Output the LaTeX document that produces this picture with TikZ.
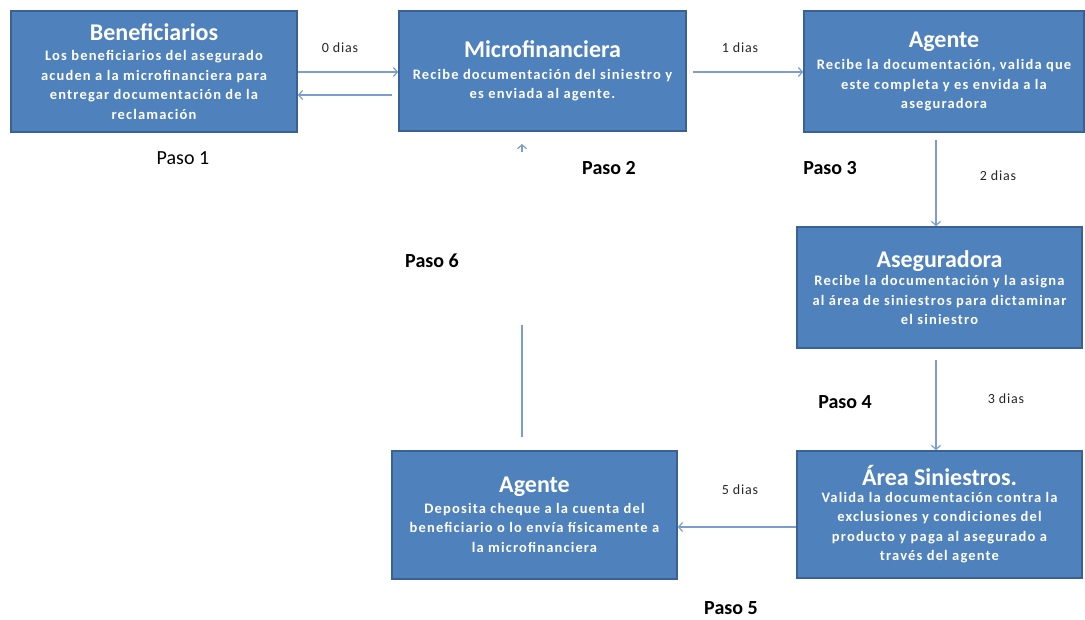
\documentclass[tikz,border=0pt]{standalone}
\usepackage{fontspec}
\setmainfont{Carlito}
\usetikzlibrary{arrows.meta}
\definecolor{boxfill}{HTML}{4F81BD}
\definecolor{boxborder}{HTML}{3A6193}
\definecolor{linec}{HTML}{7C9DD0}
\newfontfamily\bodyff[LetterSpace=8]{Carlito}
\newfontfamily\lblff[LetterSpace=6]{Carlito}
\newcommand{\ttl}[1]{{\rmfamily\fontsize{24}{27}\selectfont\bfseries #1}}
\begin{document}
\begin{tikzpicture}[x=1pt,y=-1pt,
  box/.style={draw=boxborder, line width=1.6pt, fill=boxfill, text=white, align=center,
    inner sep=2pt, font={\bodyff\bfseries\fontsize{14.5}{19.5}\selectfont}},
  conn/.style={draw=linec, line width=1.3pt, -{Straight Barb[length=4pt,width=9pt,line width=1.2pt]}},
  lbl/.style={font={\lblff\fontsize{14}{16}\selectfont}, text=black!85},
  paso/.style={font=\fontsize{20}{24}\selectfont\bfseries},
]
\useasboundingbox (0,0) rectangle (1085,620);
% boxes
\node[box, minimum width=286pt, minimum height=121pt] (benef) at (154,71.5)
  {\ttl{Beneficiarios}\\[1pt]Los beneficiarios del asegurado\\acuden a la microfinanciera para\\entregar documentación de la\\reclamación};
\node[box, minimum width=287pt, minimum height=120pt] (micro) at (542.5,71)
  {\ttl{Microfinanciera}\\[2pt]Recibe documentación del siniestro y\\es enviada al agente.};
\node[box, minimum width=280pt, minimum height=121pt] (ag1) at (944,71.5)
  {\ttl{Agente}\\[3pt]Recibe la documentación, valida que\\este completa y es envida a la\\aseguradora};
\node[box, minimum width=285pt, minimum height=121pt] (aseg) at (939.5,287.5)
  {\ttl{Aseguradora}\\[-1pt]Recibe la documentación y la asigna\\al área de siniestros para dictaminar\\el siniestro};
\node[box, minimum width=285pt, minimum height=127pt] (area) at (939.5,514.5)
  {\ttl{Área Siniestros.}\\[-3pt]Valida la documentación contra la\\exclusiones y condiciones del\\producto y paga al asegurado a\\través del agente};
\node[box, minimum width=285pt, minimum height=128pt] (ag2) at (534.5,515)
  {\ttl{Agente}\\[1pt]Deposita cheque a la cuenta del\\beneficiario o lo envía físicamente a\\la microfinanciera};
% connectors
\coordinate (c1) at (399,72);
\draw[conn] (benef.east |- c1) -- (micro.west |- c1);
\coordinate (c2) at (392,95);
\draw[conn] (c2) -- (benef.east |- c2);
\coordinate (c3) at (693,72);
\draw[conn] (c3) -- (ag1.west |- c3);
\coordinate (c4) at (936,140);
\draw[conn] (c4) -- (aseg.north -| c4);
\coordinate (c5) at (936,360);
\draw[conn] (c5) -- (area.north -| c5);
\coordinate (c6) at (797,527);
\draw[conn] (area.west |- c6) -- (ag2.east |- c6);
\coordinate (c7) at (522,437);
\coordinate (c8) at (522,325);
\draw[draw=linec, line width=1.3pt] (c7) -- (c8);
\coordinate (c9) at (522,152);
\coordinate (c10) at (522,144);
\draw[conn] (c9) -- (c10);
% labels
\node[lbl] (l0) at (340,48) {0 dias};
\node[lbl] (l1) at (740,48) {1 dias};
\node[lbl] (l2) at (998,176) {2 dias};
\node[lbl] (l3) at (1006,399) {3 dias};
\node[lbl] (l5) at (740,490) {5 dias};
\node[font=\fontsize{20}{24}\selectfont] (p1) at (183,158) {Paso 1};
\node[paso] (p2) at (609,168) {Paso 2};
\node[paso] (p3) at (830,168) {Paso 3};
\node[paso] (p4) at (845,402) {Paso 4};
\node[paso] (p5) at (731,608) {Paso 5};
\node[paso] (p6) at (432,261) {Paso 6};
\end{tikzpicture}
\end{document}
